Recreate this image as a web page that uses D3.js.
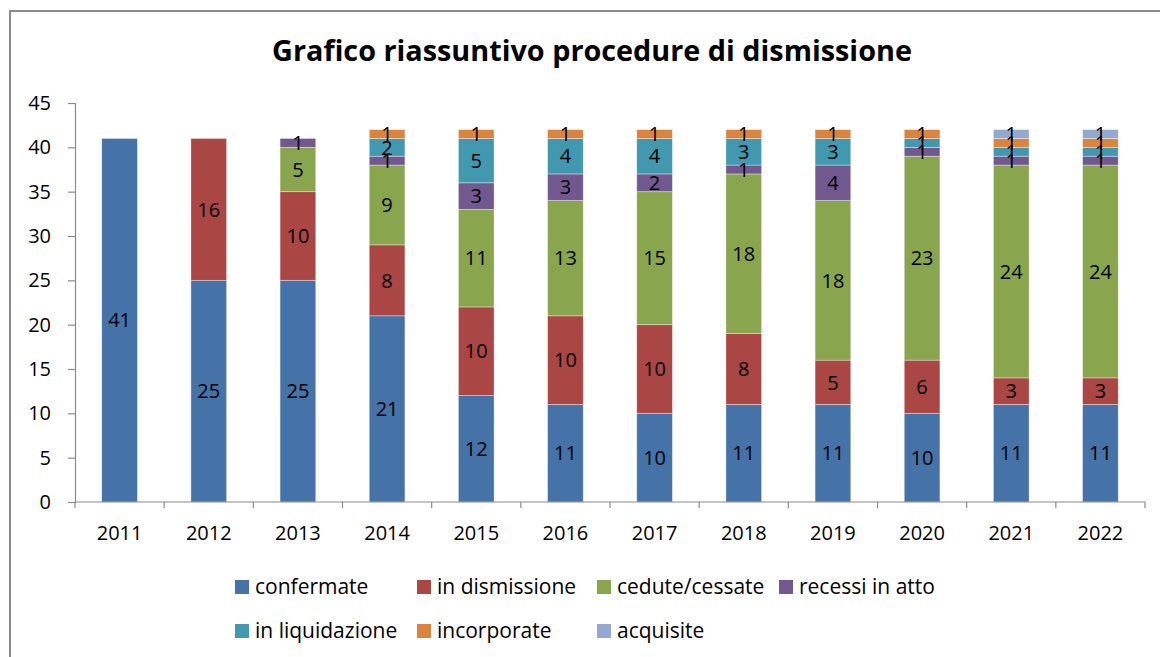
<!DOCTYPE html>
<html>
<head>
<meta charset="utf-8">
<script src="https://cdn.jsdelivr.net/npm/d3@7"></script>
<style>
  body { margin: 0; background: #fff; }
  svg text { font-family: "Open Sans", sans-serif; fill: #000; }
</style>
</head>
<body>
<svg id="chart" width="1160" height="657"></svg>
<script>
// data
var years = ["2011","2012","2013","2014","2015","2016","2017","2018","2019","2020","2021","2022"];
var confermate     = [41, 25, 25, 21, 12, 11, 10, 11, 11, 10, 11, 11];
var inDismissione  = [ 0, 16, 10,  8, 10, 10, 10,  8,  5,  6,  3,  3];
var cedute         = [ 0,  0,  5,  9, 11, 13, 15, 18, 18, 23, 24, 24];
var recessi        = [ 0,  0,  1,  1,  3,  3,  2,  1,  4,  1,  1,  1];
var liquidazione   = [ 0,  0,  0,  2,  5,  4,  4,  3,  3,  1,  1,  1];
var incorporate    = [ 0,  0,  0,  1,  1,  1,  1,  1,  1,  1,  1,  1];
var acquisite      = [ 0,  0,  0,  0,  0,  0,  0,  0,  0,  0,  1,  1];
var yTicks = [0, 5, 10, 15, 20, 25, 30, 35, 40, 45];

var seriesNames = ["confermate", "in dismissione", "cedute/cessate", "recessi in atto",
                   "in liquidazione", "incorporate", "acquisite"];
var seriesValues = [confermate, inDismissione, cedute, recessi, liquidazione, incorporate, acquisite];
var colors = ["#4572A7", "#AA4643", "#89A54E", "#71588F", "#4198AF", "#DB843D", "#93A9CF"];

var svg = d3.select("#chart");

// outer frame (runs off right/bottom edge like the screenshot)
svg.append("rect")
  .attr("x", 10).attr("y", 11)
  .attr("width", 1170).attr("height", 670)
  .attr("fill", "none")
  .attr("stroke", "#8c8c8c")
  .attr("stroke-width", 2);

// title
var title = svg.append("text")
  .attr("x", 592).attr("y", 61)
  .attr("text-anchor", "middle")
  .style("font-weight", "bold")
  .style("font-size", "26px")
  .text("Grafico riassuntivo procedure di dismissione");
// fit title width to reference (~640px)
var tw = title.node().getComputedTextLength();
title.style("font-size", (26 * 640 / tw).toFixed(2) + "px");

var plot = {left: 75, right: 1145, top: 103, bottom: 502};

var x = d3.scaleBand()
  .domain(years)
  .range([plot.left, plot.right])
  .paddingInner(0.6)
  .paddingOuter(0.3);

var y = d3.scaleLinear()
  .domain([0, 45])
  .range([plot.bottom, plot.top]);

// stack data
var table = years.map(function(yr, i) {
  var row = {year: yr};
  seriesNames.forEach(function(n, k) { row[n] = seriesValues[k][i]; });
  return row;
});
var stacked = d3.stack().keys(seriesNames)(table);

var layers = svg.append("g").selectAll("g")
  .data(stacked)
  .enter().append("g")
  .attr("fill", function(d, i) { return colors[i]; });

layers.selectAll("rect")
  .data(function(d) { return d.filter(function(p) { return p[1] - p[0] > 0; }); })
  .enter().append("rect")
  .attr("x", function(d) { return x(d.data.year); })
  .attr("width", x.bandwidth())
  .attr("y", function(d) { return y(d[1]); })
  .attr("height", function(d) { return y(d[0]) - y(d[1]); })
  .attr("stroke", "rgba(255,255,255,0.45)")
  .attr("stroke-width", 0.8);

// value labels
var labels = svg.append("g");
stacked.forEach(function(layer) {
  layer.forEach(function(p) {
    var v = p[1] - p[0];
    if (v <= 0) return;
    labels.append("text")
      .attr("x", x(p.data.year) + x.bandwidth() / 2)
      .attr("y", (y(p[0]) + y(p[1])) / 2)
      .attr("dy", "0.36em")
      .attr("text-anchor", "middle")
      .style("font-size", "20px")
      .text(v);
  });
});

// y axis
var yAxis = svg.append("g")
  .attr("transform", "translate(" + plot.left + ",0)")
  .call(d3.axisLeft(y).tickValues(yTicks).tickSize(7).tickPadding(17));
yAxis.select(".domain").attr("stroke", "#8c8c8c").attr("stroke-width", 1.2);
yAxis.selectAll(".tick line").attr("stroke", "#8c8c8c").attr("stroke-width", 1.2);
yAxis.selectAll("text").style("font-size", "20px").attr("font-family", null).attr("fill", "#000");

// x axis: line along 0 with ticks at category boundaries
var xAxis = svg.append("g")
  .attr("transform", "translate(0," + plot.bottom + ")")
  .call(d3.axisBottom(x).tickSize(0).tickPadding(24));
xAxis.select(".domain").remove();
xAxis.selectAll("text").style("font-size", "20px").attr("font-family", null).attr("fill", "#000");
xAxis.append("line")
  .attr("x1", plot.left).attr("x2", plot.right)
  .attr("y1", 0).attr("y2", 0)
  .attr("stroke", "#8c8c8c").attr("stroke-width", 1.2);
var bounds = years.map(function(yr) { return x(yr) - x.step() * x.paddingInner() / 2; });
bounds.push(plot.right);
xAxis.selectAll(".bound")
  .data(bounds)
  .enter().append("line")
  .attr("class", "bound")
  .attr("x1", function(d) { return d; }).attr("x2", function(d) { return d; })
  .attr("y1", 0).attr("y2", 6)
  .attr("stroke", "#8c8c8c").attr("stroke-width", 1.2);

// legend
var legendPos = [[235, 587], [417, 587], [597, 587], [779, 587],
                 [235, 631], [417, 631], [597, 631]];
var legend = svg.append("g").selectAll("g")
  .data(seriesNames)
  .enter().append("g")
  .attr("transform", function(d, i) { return "translate(" + legendPos[i][0] + "," + legendPos[i][1] + ")"; });
legend.append("rect")
  .attr("x", 0).attr("y", -7)
  .attr("width", 14).attr("height", 14)
  .attr("fill", function(d, i) { return colors[i]; });
legend.append("text")
  .attr("x", 20).attr("y", 0)
  .attr("dy", "0.34em")
  .style("font-size", "21px")
  .text(function(d) { return d; });
</script>
</body>
</html>
